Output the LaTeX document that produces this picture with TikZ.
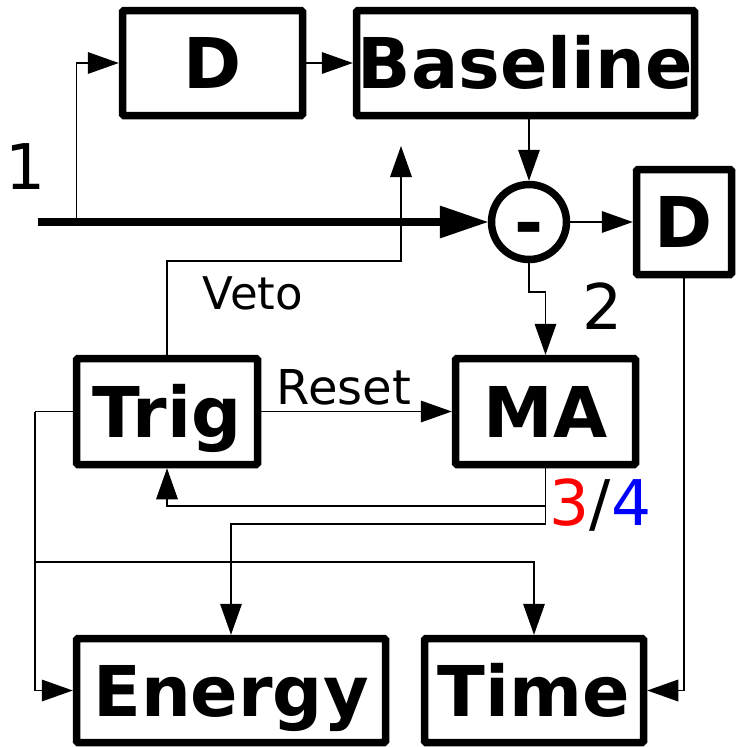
\documentclass[tikz,border=0pt]{standalone}
\usepackage{fontspec}
\setmainfont{DejaVu Sans}
\usetikzlibrary{arrows.meta}
\newcommand\boxfont{\fontsize{70}{70}\selectfont\bfseries}
\newcommand\digitfont{\fontsize{63}{63}\selectfont}
\begin{document}
\begin{tikzpicture}[x=1pt,y=-1pt,
  blk/.style={draw, line width=7.5pt, rounded corners=1.5pt, inner sep=0pt,
    text height=51pt, text depth=0pt, font=\boxfont},
  conn/.style={line width=1.2pt, -{Triangle[length=31pt,width=22pt,line width=0pt]}},
  plain/.style={line width=1.2pt},
  lbl/.style={anchor=base, inner sep=0pt}]
\useasboundingbox (0,0) rectangle (736,747);
% blocks
\node[blk, minimum width=180pt, minimum height=105pt] (D1) at (212.5,63) {D};
\node[blk, minimum width=338pt, minimum height=105pt] (BL) at (525.5,63) {Baseline};
\node[blk, circle, rounded corners=0pt, minimum size=75pt] (circ) at (529,222) {-};
\node[blk, minimum width=95pt, minimum height=105pt] (D2) at (684,222) {D};
\node[blk, minimum width=181pt, minimum height=106pt] (Trig) at (167,411.5) {Trig};
\node[blk, minimum width=180pt, minimum height=106pt] (MA) at (545.5,411.5) {MA};
\node[blk, minimum width=309pt, minimum height=104pt] (En) at (231,690.5) {Energy};
\node[blk, minimum width=219pt, minimum height=104pt] (Ti) at (534,690.5) {Time};
% helper coordinates
\coordinate (in) at (38,222);
\coordinate (br) at (76.5,222);
\coordinate (k2) at (545.5,292);
\coordinate (vk) at (401,261);
\coordinate (vtip) at (401,146);
\coordinate (m1) at (545.5,506);
\coordinate (m2) at (545.5,524);
\coordinate (tl) at (35,411.5);
\coordinate (tb) at (35,562);
% input line
\draw[line width=8pt, -{Triangle[length=48pt,width=33pt,line width=0pt]}] (in) -- (circ.west);
\draw[conn] (br) |- (D1.west);
\draw[conn] (D1.east) -- (BL.west);
\draw[conn] (BL.south -| circ.north) -- (circ.north);
\draw[conn] (circ.east) -- (D2.west);
\draw[conn] (circ.south) |- (k2) -- (MA.north);
\draw[conn] (Trig.north) |- (vk) -- (vtip);
\draw[conn] (Trig.east) -- (MA.west);
\draw[plain] (MA.south) -- (m2);
\draw[conn] (m1) -| (Trig.south);
\draw[conn] (m2) -| (En.north);
\draw[plain] (Trig.west) -- (tl);
\draw[conn] (tl) |- (En.west);
\draw[conn] (tb) -| (Ti.north);
\draw[conn] (D2.south) |- (Ti.east);
% labels
\node[lbl, font=\digitfont] (l1) at (25.5,189) {1};
\node[lbl, font=\digitfont] (l2) at (603,329) {2};
\node[lbl, font=\fontsize{45}{45}\selectfont] (lveto) at (253,309) {Veto};
\node[lbl, font=\fontsize{48}{48}\selectfont] (lreset) at (344,404) {Reset};
\node[lbl, font=\digitfont] (l34) at (600.5,525.5) {\textcolor{red}{3}/\textcolor{blue}{4}};
\end{tikzpicture}
\end{document}
